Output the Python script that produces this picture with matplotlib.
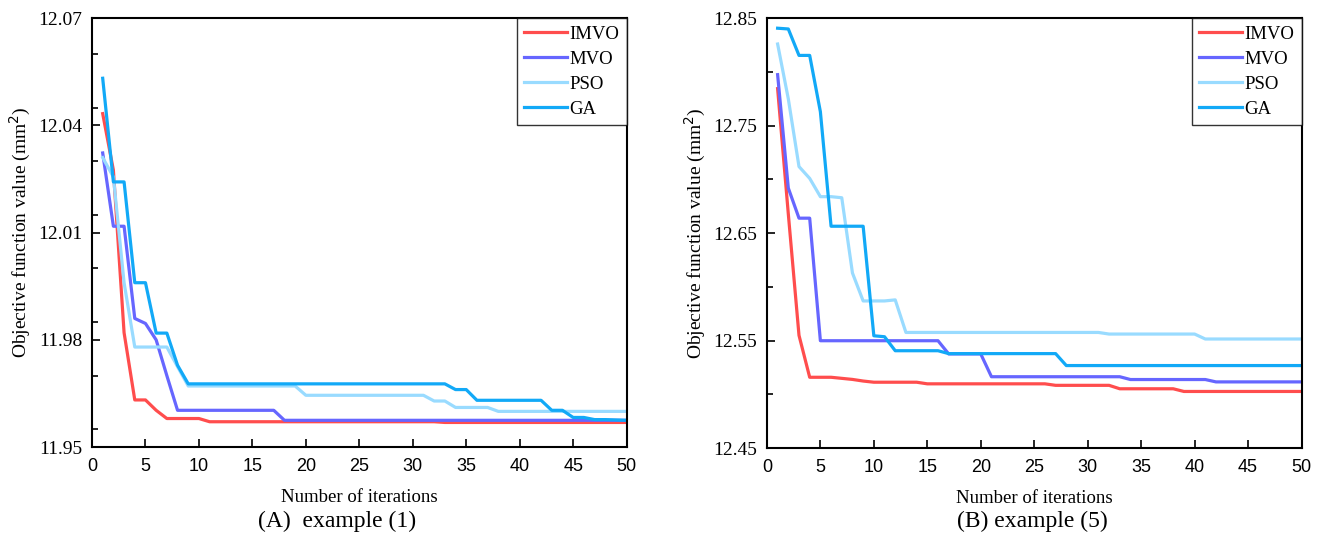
import numpy as np
import matplotlib
matplotlib.use('Agg')
import matplotlib.pyplot as plt
from matplotlib.ticker import MultipleLocator

iters = np.arange(1, 51)
algos = ['IMVO', 'MVO', 'PSO', 'GA']
colors = ['#ff4d4d', '#6666ff', '#99dbff', '#12a9f7']

# example (1)
imvo_a = [12.0433, 12.0275, 11.982, 11.9632, 11.9632, 11.9603, 11.958, 11.958, 11.958, 11.958] \
    + [11.9571] * 22 + [11.9569] * 18
mvo_a = [12.0323, 12.0118, 12.0118, 11.986, 11.9846, 11.980, 11.970] \
    + [11.9603] * 10 + [11.9575] * 33
pso_a = [12.031, 12.0256, 11.996, 11.978, 11.978, 11.978, 11.978, 11.9725, 11.9671] \
    + [11.9671] * 10 + [11.9645] * 12 + [11.9629] * 2 + [11.9611] * 4 + [11.9600] * 13
ga_a = [12.0532, 12.0242, 12.0242, 11.996, 11.996, 11.9819, 11.9819, 11.9729] \
    + [11.9677] * 25 + [11.9661] * 2 + [11.9631] * 7 + [11.9603] * 2 + [11.9583] * 2 \
    + [11.9577, 11.9577, 11.9576, 11.9575]

# example (5)
imvo_b = [12.7845, 12.668, 12.555, 12.516, 12.516, 12.516, 12.515, 12.514, 12.5125] \
    + [12.5114] * 5 + [12.5099] * 12 + [12.5085] * 6 + [12.5053] * 6 + [12.5028] * 12
mvo_b = [12.7975, 12.692, 12.664, 12.664] \
    + [12.550] * 12 + [12.5377] * 4 + [12.5165] * 13 + [12.5139] * 8 + [12.5117] * 9
pso_b = [12.826, 12.775, 12.712, 12.701, 12.684, 12.684, 12.683, 12.613, 12.587, 12.587, 12.587, 12.588] \
    + [12.5577] * 19 + [12.5562] * 9 + [12.5516] * 10
ga_b = [12.8407, 12.840, 12.8154, 12.8154, 12.763, 12.6565, 12.6565, 12.6565, 12.6565, 12.5546, 12.5537] \
    + [12.5407] * 5 + [12.538] * 11 + [12.5269] * 23

serif = 'Liberation Serif'
sans = 'Liberation Sans'


def draw_panel(ax, series, ylim, major):
    for y, lab, c in zip(series, algos, colors):
        ax.plot(iters, y, color=c, lw=2.3, label=lab)
    ax.set_xlim(0, 50)
    ax.set_ylim(*ylim)
    ax.xaxis.set_major_locator(MultipleLocator(5))
    ax.yaxis.set_minor_locator(MultipleLocator(major / 2))
    ax.tick_params(which='both', direction='in', top=False, right=False)
    ax.tick_params(which='major', length=6, width=1.2)
    ax.tick_params(which='minor', length=4, width=1.2)
    ax.tick_params(axis='x', which='both', pad=8)
    ax.tick_params(axis='y', which='both', pad=7)
    for s in ax.spines.values():
        s.set_linewidth(1.5)
    for t in ax.get_xticklabels():
        t.set_fontfamily(sans)
        t.set_fontsize(13)
    ax.set_yticks(np.round(np.arange(ylim[0], ylim[1] + major / 2, major), 2))
    ax.set_yticklabels(['%.2f' % v for v in ax.get_yticks()], fontfamily=serif, fontsize=14)
    ax.set_xlabel('Number of iterations', fontfamily=serif, fontsize=13.5, labelpad=10)
    ax.set_ylabel('Objective function value (mm$^2$)', fontfamily=serif, fontsize=14, labelpad=4)
    leg = ax.legend(loc='upper right', borderaxespad=0, fancybox=False, handlelength=2.3,
                    handletextpad=0.1, labelspacing=0.42, borderpad=0.4,
                    prop={'family': serif, 'size': 13.5})
    leg.get_frame().set_edgecolor('black')
    leg.get_frame().set_linewidth(1.0)


fig = plt.figure(figsize=(13.2, 5.52), dpi=100)
ax1 = fig.add_axes([0.0697, 0.190, 0.405, 0.777])
ax2 = fig.add_axes([0.581, 0.188, 0.405, 0.779])

draw_panel(ax1, [imvo_a, mvo_a, pso_a, ga_a], (11.95, 12.07), 0.03)
draw_panel(ax2, [imvo_b, mvo_b, pso_b, ga_b], (12.45, 12.85), 0.1)

fig.text(0.255, 0.055, '(A)  example (1)', ha='center', va='center', fontfamily=serif, fontsize=17)
fig.text(0.782, 0.055, '(B) example (5)', ha='center', va='center', fontfamily=serif, fontsize=17)

fig.savefig('out.png', dpi=100)
